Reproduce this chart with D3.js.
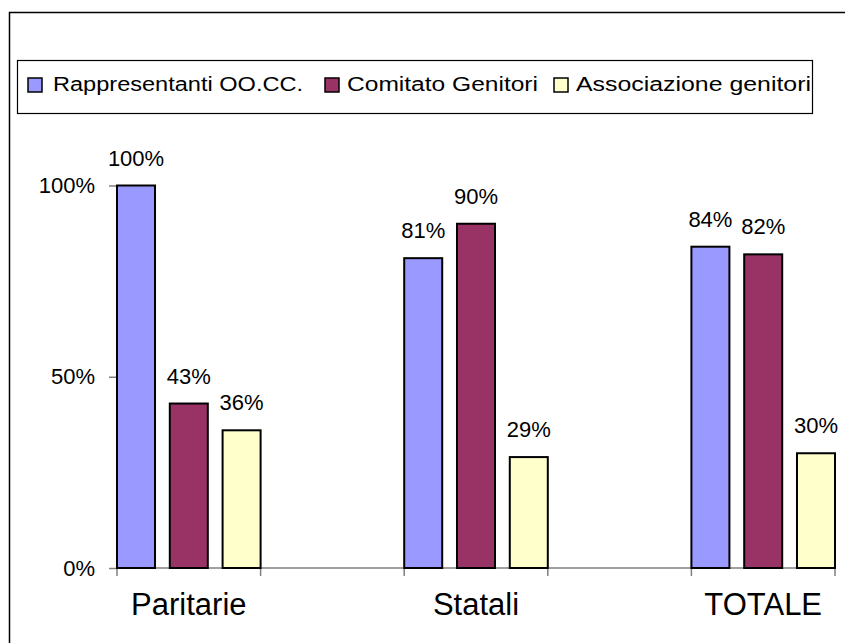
<!DOCTYPE html>
<html>
<head>
<meta charset="utf-8">
<script src="https://cdn.jsdelivr.net/npm/d3@7"></script>
<style>
  body { margin: 0; background: #fff; }
  svg { display: block; font-family: "Liberation Sans", Arial, sans-serif; }
</style>
</head>
<body>
<svg id="chart"></svg>
<script>
// dati del grafico (le categorie vuote fanno da spaziatura come nel foglio originale)
var categories = ["Paritarie", "", "Statali", "", "TOTALE"];
var seriesNames = ["Rappresentanti OO.CC.", "Comitato Genitori", "Associazione genitori"];
var rappresentanti = [1.00, null, 0.81, null, 0.84];
var comitato       = [0.43, null, 0.90, null, 0.82];
var associazione   = [0.36, null, 0.29, null, 0.30];
var yTicks = [0, 0.5, 1];

var colors = ["#9999FF", "#993366", "#FFFFCC"];
var seriesValues = [rappresentanti, comitato, associazione];

var size = { width: 845, height: 643 };
var margin = { top: 185.5, right: 10, bottom: 75, left: 117 };
var width = 835 - margin.left;
var height = 568 - margin.top;

var svg = d3.select("#chart")
  .attr("width", size.width)
  .attr("height", size.height);

// bordo esterno del grafico
svg.append("rect")
  .attr("x", 9.5).attr("y", 12.5)
  .attr("width", 860).attr("height", 660)
  .attr("fill", "#fff")
  .attr("stroke", "#000")
  .attr("stroke-width", 1.5);

var g = svg.append("g")
  .attr("transform", "translate(" + margin.left + "," + margin.top + ")");

var x = d3.scaleBand()
  .domain(categories.map(function(d, i){ return i; }))
  .range([0, width])
  .padding(0);

var xInner = d3.scaleBand()
  .domain(d3.range(seriesNames.length))
  .range([0, x.bandwidth()])
  .paddingInner(0.28)
  .paddingOuter(0);

var y = d3.scaleLinear()
  .domain([0, 1])
  .range([height, 0]);

// asse Y
var yAxis = g.append("g")
  .call(d3.axisLeft(y)
    .tickValues(yTicks)
    .tickFormat(d3.format(".0%"))
    .tickSize(8)
    .tickPadding(14));
yAxis.select(".domain").remove();
yAxis.selectAll("line").attr("stroke", "#808080").attr("stroke-width", 1.5);
yAxis.selectAll("text")
  .attr("font-size", 22)
  .attr("fill", "#000")
  .attr("font-family", "Liberation Sans, Arial, sans-serif");

// asse X: linea e tacche ai confini delle categorie
g.append("line")
  .attr("x1", 0).attr("x2", width)
  .attr("y1", height).attr("y2", height)
  .attr("stroke", "#808080")
  .attr("stroke-width", 1.5);

var bounds = categories.map(function(d, i){ return x(i); }).concat([width]);
g.selectAll(".xtick")
  .data(bounds)
  .enter()
  .append("line")
  .attr("class", "xtick")
  .attr("x1", function(d){ return d; })
  .attr("x2", function(d){ return d; })
  .attr("y1", height)
  .attr("y2", height + 8)
  .attr("stroke", "#808080")
  .attr("stroke-width", 1.5);

g.selectAll(".xlabel")
  .data(categories)
  .enter()
  .append("text")
  .attr("class", "xlabel")
  .attr("x", function(d, i){ return x(i) + x.bandwidth() / 2; })
  .attr("y", height + 47)
  .attr("text-anchor", "middle")
  .attr("font-size", 31)
  .text(function(d){ return d; });

// barre ed etichette
var groups = g.selectAll(".cat")
  .data(categories)
  .enter()
  .append("g")
  .attr("class", "cat")
  .attr("transform", function(d, i){ return "translate(" + x(i) + ",0)"; });

groups.each(function(c, ci){
  var cell = d3.select(this);
  var vals = seriesValues.map(function(s, si){ return { s: si, v: s[ci] }; })
    .filter(function(d){ return d.v != null; });

  cell.selectAll("rect")
    .data(vals)
    .enter()
    .append("rect")
    .attr("x", function(d){ return xInner(d.s); })
    .attr("y", function(d){ return y(d.v); })
    .attr("width", xInner.bandwidth())
    .attr("height", function(d){ return height - y(d.v); })
    .attr("fill", function(d){ return colors[d.s]; })
    .attr("stroke", "#000")
    .attr("stroke-width", 2);

  cell.selectAll("text")
    .data(vals)
    .enter()
    .append("text")
    .attr("x", function(d){ return xInner(d.s) + xInner.bandwidth() / 2; })
    .attr("y", function(d){ return y(d.v) - 20; })
    .attr("text-anchor", "middle")
    .attr("font-size", 22)
    .text(function(d){ return d3.format(".0%")(d.v); });
});

// legenda
var legend = svg.append("g");
legend.append("rect")
  .attr("x", 17.5).attr("y", 60.5)
  .attr("width", 795).attr("height", 53)
  .attr("fill", "#fff")
  .attr("stroke", "#000")
  .attr("stroke-width", 1.2);

var legendX = [28, 325, 554];
var legendTextLen = [250, 191, 235];

var items = legend.selectAll(".item")
  .data(seriesNames)
  .enter()
  .append("g")
  .attr("class", "item")
  .attr("transform", function(d, i){ return "translate(" + legendX[i] + ",78)"; });

items.append("rect")
  .attr("width", 14).attr("height", 14)
  .attr("fill", function(d, i){ return colors[i]; })
  .attr("stroke", "#000")
  .attr("stroke-width", 1.5);

items.append("text")
  .attr("x", function(d, i){ return i == 0 ? 25 : 22; })
  .attr("y", 13)
  .attr("font-size", 20)
  .attr("textLength", function(d, i){ return legendTextLen[i]; })
  .attr("lengthAdjust", "spacingAndGlyphs")
  .text(function(d){ return d; });
</script>
</body>
</html>
